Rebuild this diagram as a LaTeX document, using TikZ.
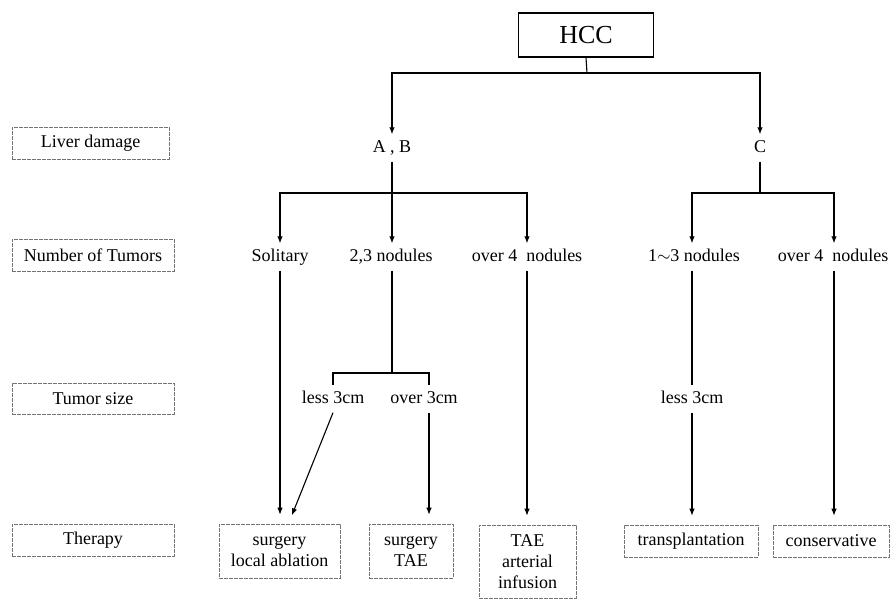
\documentclass[tikz,border=0pt]{standalone}
\usepackage{fontspec}
\setmainfont{Liberation Serif}
\usetikzlibrary{arrows.meta}

\begin{document}
\begin{tikzpicture}
[x=1pt,y=-1pt,
%%%%%%%%%%%%%%%%%%%%%%%%%%%%%%
txt/.style={font=\fontsize{18}{21}\selectfont, inner xsep=2pt, inner ysep=6pt, text height=12pt, text depth=3pt},
side/.style={rectangle, draw=black!55, line width=0.6pt, dash pattern=on 4pt off 1pt, font=\fontsize{18}{21}\selectfont, minimum height=32pt, inner sep=0pt},
ther/.style={rectangle, draw=black!55, line width=0.6pt, dash pattern=on 4pt off 1pt, font=\fontsize{18}{21}\selectfont, align=center, inner sep=0pt},
ln/.style={draw=black, line width=1.1pt},
arr/.style={ln, -{Latex[length=7pt,width=5.5pt]}},
tarr/.style={arr, shorten >=9pt},
]%%%%%%%%%%%%%%%%%%%%%%%%%%%%%%
\useasboundingbox (0,0) rectangle (891,599);

% left column
\node[side, minimum width=157pt] (liver) at (90.5,143) {Liver damage};
\node[side, minimum width=162pt] (number) at (93,255) {Number of Tumors};
\node[side, minimum width=162pt, minimum height=31pt] (size) at (93,398.5) {Tumor size};
\node[side, minimum width=162pt] (therapy) at (93,540) {Therapy};

% tree
\node[rectangle, draw=black, line width=1.2pt, minimum width=135pt, minimum height=44pt, font=\fontsize{26}{30}\selectfont] (hcc) at (586,35) {HCC};
\node[txt] (ab) at (392,148) {A , B};
\node[txt] (c) at (760,148) {C};
\node[txt] (solitary) at (280,257) {Solitary};
\node[txt] (nod23) at (391,257) {2,3 nodules};
\node[txt] (over4a) at (527,257) {over 4\ \ nodules};
\node[txt] (nod13) at (694,257) {1$\sim$3 nodules};
\node[txt] (over4b) at (833,257) {over 4\ \ nodules};
\node[txt] (less3a) at (333,399) {less 3cm};
\node[txt] (over3) at (424,399) {over 3cm};
\node[txt] (less3b) at (692,399) {less 3cm};

% therapy boxes
\node[ther, minimum width=121pt, minimum height=54pt] (therA) at (279.5,551) {surgery\\local ablation};
\node[ther, minimum width=84pt, minimum height=54pt] (therB) at (411,551) {surgery\\TAE};
\node[ther, minimum width=97pt, minimum height=73pt] (therC) at (527.5,561.5) {TAE\\arterial\\infusion};
\node[ther, minimum width=134pt, minimum height=32pt] (therD) at (691,541) {transplantation};
\node[ther, minimum width=116pt, minimum height=32pt] (therE) at (831,541) {conservative};

\coordinate (j0) at (587,73);
\coordinate (j1) at (392,193);
\coordinate (j2) at (760,193);
\coordinate (j3) at (392,373);

\draw[ln] (hcc.south) -- (j0);
\draw[arr] (j0) -| (ab.north);
\draw[arr] (j0) -| (c.north);

\draw[ln] (ab.south) -- (j1);
\draw[arr] (j1) -| (solitary.north);
\draw[arr] (j1) -- (j1 |- nod23.north);
\draw[arr] (j1) -| (over4a.north);

\draw[ln] (c.south) -- (j2);
\draw[arr] (j2) -| ([xshift=-2pt]nod13.north);
\draw[arr] (j2) -| ([xshift=1pt]over4b.north);

\draw[ln] (j3 |- nod23.south) -- (j3);
\draw[ln] (less3a.north) |- (j3) -| ([xshift=5pt]over3.north);

\draw[tarr] (solitary.south) -- (solitary.south |- therA.north);
\draw[tarr] (less3a.south) -- ([xshift=9pt]therA.north);
\draw[tarr] ([xshift=5pt]over3.south) -- ([xshift=5pt]over3.south |- therB.north);
\draw[tarr] (over4a.south) -- (over4a.south |- therC.north);
\draw[ln] ([xshift=-2pt]nod13.south) -- (less3b.north);
\draw[tarr] (less3b.south) -- (less3b.south |- therD.north);
\draw[tarr] ([xshift=1pt]over4b.south) -- ([xshift=1pt]over4b.south |- therE.north);
\end{tikzpicture}
\end{document}
